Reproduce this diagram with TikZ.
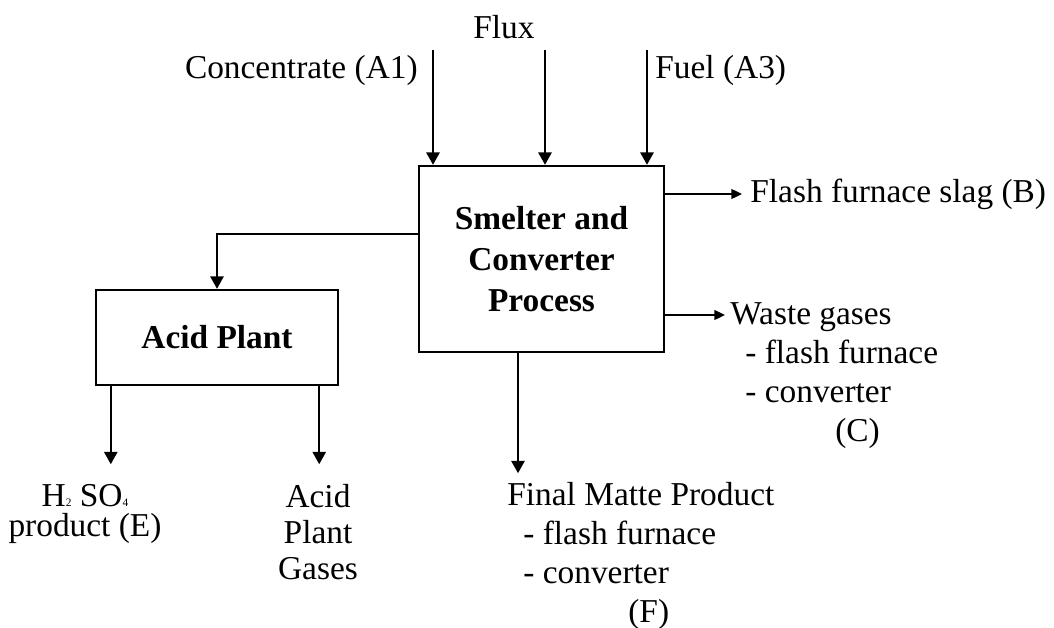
\documentclass[tikz,border=0pt]{standalone}
\usepackage{fontspec}
\setmainfont{Liberation Serif}
\usetikzlibrary{arrows.meta,positioning,calc}
\newcommand{\tinysub}[1]{{\fontsize{6.5}{7}\selectfont #1}}
\tikzset{
  proc/.style={draw,line width=1.4pt,align=center,font=\fontsize{19}{23.5}\selectfont\bfseries},
  flow/.style={line width=1.1pt,-{Triangle[length=7pt,width=7.5pt]}},
  sideflow/.style={line width=1.1pt,-{Triangle[length=6pt,width=5.5pt]}},
  lbl/.style={inner sep=0pt,align=left},
}

\begin{document}
\begin{tikzpicture}[x=0.02cm,y=-0.02cm,font=\fontsize{19}{22.2}\selectfont]
  \useasboundingbox (0,0) rectangle (1054,628);
  \node[proc,minimum width=4.9cm,minimum height=3.72cm] (smelter) at (541.5,259) {Smelter and\\Converter\\Process};
  \node[proc,minimum width=4.84cm,minimum height=1.9cm] (acid) at (217,337.5) {Acid Plant};

  \node[lbl] (flux) at (504,27) {Flux};
  \node[lbl,anchor=east] (conc) at (418,70) {Concentrate (A1)};
  \node[lbl,anchor=west] (fuel) at (655,70) {Fuel (A3)};
  \node[lbl,anchor=west] (slag) at (750,194) {Flash furnace slag (B)};
  \node[lbl,anchor=north west] (waste) at (730,302) {Waste gases\\\hspace*{0.3cm}- flash furnace\\\hspace*{0.3cm}- converter\\\hspace*{2.1cm}(C)};
  \node[lbl,anchor=north west] (final) at (507,482) {Final Matte Product\\\hspace*{0.32cm}- flash furnace\\\hspace*{0.32cm}- converter\\\hspace*{2.42cm}(F)};
  \node[lbl,align=center,font=\fontsize{19}{17.5}\selectfont] (h2so4) at (85,514) {H\tinysub{2} SO\tinysub{4}\\product (E)};
  \node[lbl,align=center,font=\fontsize{19}{20.5}\selectfont] (gases) at (318,532) {Acid\\Plant\\Gases};

  \coordinate (inA) at (433,50);
  \coordinate (inB) at (545,50);
  \coordinate (inC) at (647,50);
  \foreach \c in {inA,inB,inC}
    \draw[flow] (\c) -- (\c |- smelter.north);

  \draw[sideflow] (smelter.east |- slag.west) -- ([xshift=-0.16cm]slag.west);
  \coordinate (wgtip) at (725,315);
  \draw[sideflow] (smelter.east |- wgtip) -- (wgtip);

  \coordinate (tap) at (419,234);
  \draw[flow] (tap) -| (acid.north);
  \draw[flow] ([xshift=0.32cm]acid.south west) -- ++(0,78);
  \draw[flow] ([xshift=-0.4cm]acid.south east) -- ++(0,78);
  \draw[flow] ([xshift=-0.47cm]smelter.south) -- ++(0,120);
\end{tikzpicture}
\end{document}
